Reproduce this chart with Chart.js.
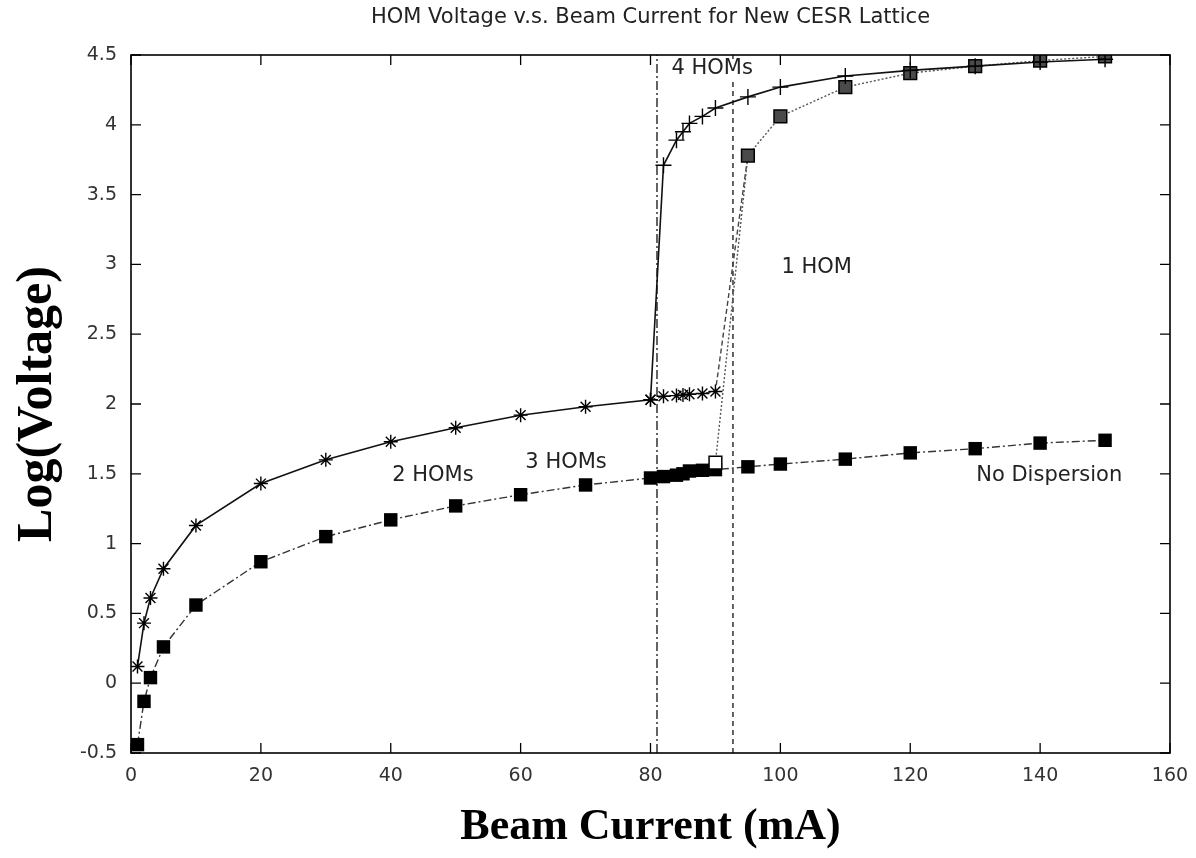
<!DOCTYPE html>
<html><head><meta charset="utf-8">
<script src="https://cdn.jsdelivr.net/npm/chart.js@4.4.0/dist/chart.umd.min.js"></script>
<style>html,body{margin:0;padding:0;background:#fff}#wrap{width:1196px;height:858px}</style>
</head><body><div id="wrap"><canvas id="c" width="1196" height="858"></canvas></div>
<script>
const chartTitle = 'HOM Voltage v.s. Beam Current for New CESR Lattice';
// Asterisk points up to 80 mA, then plus markers after the jump
const homX = [1,2,3,5,10,20,30,40,50,60,70,80,82,84,85,86,88,90,95,100,110,120,130,140,150];
const homY = [0.12,0.43,0.61,0.82,1.13,1.43,1.60,1.73,1.83,1.92,1.98,2.03,3.71,3.89,3.95,4.01,4.06,4.12,4.20,4.27,4.35,4.39,4.42,4.45,4.47];
// Asterisk branch from 80 to 90 mA, jumping at 95 mA
const threeX = [80,82,84,85,86,88,90,95];
const threeY = [2.03,2.055,2.06,2.065,2.07,2.075,2.09,3.78];
// 1 HOM branch
const oneX = [90,95,100,110,120,130,140,150];
const oneY = [1.58,3.78,4.06,4.27,4.37,4.42,4.46,4.49];
// No dispersion
const ndX = [1,2,3,5,10,20,30,40,50,60,70,80,82,84,85,86,88,90,95,100,110,120,130,140,150];
const ndY = [-0.44,-0.13,0.04,0.26,0.56,0.87,1.05,1.17,1.27,1.35,1.42,1.47,1.48,1.49,1.50,1.52,1.525,1.53,1.55,1.57,1.605,1.65,1.68,1.72,1.74];
// Threshold markers (mA)
const thresholdX = [81, 92.7];
const yRange = [-0.5, 4.5];
const xTicks = [0,20,40,60,80,100,120,140,160];
const yTicks = [-0.5,0,0.5,1,1.5,2,2.5,3,3.5,4,4.5];
const labelTexts = ["2 HOMs","3 HOMs","4 HOMs","1 HOM","No Dispersion"];
const labelX = [46.5, 67, 89.5, 105.6, 141.4];
const labelY = [1.49, 1.58, 4.40, 2.98, 1.49];

const pts = (xs, ys) => xs.map((x,i)=>({x, y: ys[i]}));
const SANS = "'DejaVu Sans', 'Liberation Sans', Arial, sans-serif";
const SERIF = "'Liberation Serif', 'Times New Roman', serif";

const frame = {
  id: 'frame',
  afterDatasetsDraw(chart) {
    const {ctx, chartArea: a, scales: {x, y}} = chart;
    ctx.save();
    ctx.textAlign = 'center'; ctx.textBaseline = 'middle';
    ctx.font = '21px ' + SANS;
    ctx.fillStyle = '#222';
    ctx.fillText(chartTitle, (a.left + a.right) / 2, 18);
    labelTexts.forEach((t,i) => {
      const px = x.getPixelForValue(labelX[i]), py = y.getPixelForValue(labelY[i]);
      const w = ctx.measureText(t).width;
      ctx.fillStyle = '#fff'; ctx.fillRect(px - w/2 - 2, py - 10, w + 4, 20);
      ctx.fillStyle = '#222'; ctx.fillText(t, px, py);
    });
    ctx.strokeStyle = '#000'; ctx.lineWidth = 1.6;
    ctx.strokeRect(a.left, a.top, a.right - a.left, a.bottom - a.top);
    ctx.lineWidth = 1.3;
    const L = 10;
    ctx.beginPath();
    xTicks.forEach(v => { const p = x.getPixelForValue(v);
      ctx.moveTo(p, a.bottom); ctx.lineTo(p, a.bottom - L);
      ctx.moveTo(p, a.top); ctx.lineTo(p, a.top + L); });
    yTicks.forEach(v => { const p = y.getPixelForValue(v);
      ctx.moveTo(a.left, p); ctx.lineTo(a.left + L, p);
      ctx.moveTo(a.right, p); ctx.lineTo(a.right - L, p); });
    ctx.stroke();
    ctx.restore();
  }
};

new Chart(document.getElementById('c'), {
  type: 'scatter',
  data: { datasets: [
    { label: 'HOMs', data: pts(homX, homY), showLine: true, order: 1,
      borderColor: '#111', borderWidth: 1.6, backgroundColor: '#111',
      pointStyle: c => (homX[c.dataIndex] <= 80 ? 'star' : 'cross'),
      pointRadius: c => (homX[c.dataIndex] <= 80 ? 7 : 8), pointBorderWidth: 1.4, pointBorderColor: '#000' },
    { label: '3 HOMs', data: pts(threeX, threeY), showLine: true, order: 3,
      borderColor: '#444', borderWidth: 1.4, borderDash: [5,3],
      pointStyle: 'star', pointRadius: c => (c.dataIndex === threeX.length - 1 ? 0 : 7),
      pointBorderWidth: 1.4, pointBorderColor: '#000' },
    { label: '1 HOM', data: pts(oneX, oneY), showLine: true, order: 2,
      borderColor: '#555', borderWidth: 1.4, borderDash: [2,2],
      pointStyle: 'rect', pointRadius: 9, pointBorderWidth: 1.5, pointBorderColor: '#000',
      pointBackgroundColor: c => (c.dataIndex === 0 ? '#fff' : '#4a4a4a') },
    { label: 'No Dispersion', data: pts(ndX, ndY), showLine: true, order: 4,
      borderColor: '#333', borderWidth: 1.4, borderDash: [8,3,2,3],
      pointStyle: 'rect', pointRadius: 9.5, pointBorderWidth: 0,
      pointBackgroundColor: '#000' },
    { label: 'th1', data: pts([thresholdX[0], thresholdX[0]], yRange), showLine: true, order: 5,
      borderColor: '#111', borderWidth: 1.3, borderDash: [9,3,2,3], pointRadius: 0 },
    { label: 'th2', data: pts([thresholdX[1], thresholdX[1]], yRange), showLine: true, order: 5,
      borderColor: '#111', borderWidth: 1.3, borderDash: [5,4], pointRadius: 0 }
  ]},
  options: {
    responsive: false, animation: false,
    layout: { padding: { left: 0, right: 26, top: 55, bottom: 0 } },
    plugins: { legend: { display: false }, tooltip: { enabled: false }, title: { display: false } },
    scales: {
      x: { type: 'linear', min: 0, max: 160,
        afterBuildTicks: s => { s.ticks = xTicks.map(v => ({value: v})); },
        afterFit: s => { s.height = 105; s.paddingRight = 0; s.paddingLeft = 0; },
        grid: { display: false, drawTicks: false },
        border: { display: false },
        ticks: { color: '#333', font: { family: SANS, size: 19 }, padding: 12, maxRotation: 0,
          callback: v => String(v) },
        title: { display: true, text: 'Beam Current (mA)', color: '#000',
          font: { family: SERIF, size: 44, weight: 'bold' },
          padding: { top: 0, bottom: 4 } } },
      y: { type: 'linear', min: -0.5, max: 4.5,
        afterBuildTicks: s => { s.ticks = yTicks.map(v => ({value: v})); },
        afterFit: s => { s.width = 131; s.paddingTop = 0; s.paddingBottom = 0; },
        grid: { display: false, drawTicks: false },
        border: { display: false },
        ticks: { color: '#333', font: { family: SANS, size: 19 }, padding: 14,
          callback: v => String(v) },
        title: { display: true, text: 'Log(Voltage)', color: '#000',
          font: { family: SERIF, size: 50, weight: 'bold' },
          padding: { top: 8, bottom: 0 } } }
    }
  },
  plugins: [frame]
});
</script></body></html>
